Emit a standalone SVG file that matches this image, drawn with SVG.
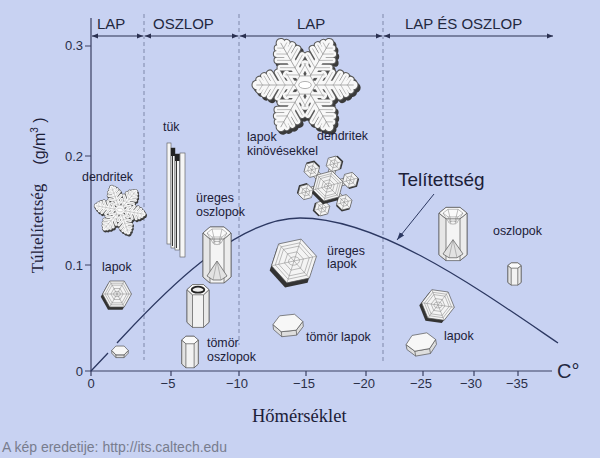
<svg xmlns="http://www.w3.org/2000/svg" width="600" height="458" viewBox="0 0 600 458">
<style>
.lbl{font-family:"Liberation Sans",Arial,sans-serif;font-size:12.4px;fill:#1c2038}
.hdr{font-family:"Liberation Sans",Arial,sans-serif;font-size:15px;fill:#232840}
.tick{font-family:"Liberation Sans",Arial,sans-serif;font-size:13px;fill:#2a2f48}
.axis{stroke:#3a4062;stroke-width:1.2;fill:none}
.dash{stroke:#7f88aa;stroke-width:1;stroke-dasharray:4 3;fill:none}
.ln{stroke:#555;stroke-width:0.7;vector-effect:non-scaling-stroke}
.ln2{stroke:#808080;stroke-width:0.5;vector-effect:non-scaling-stroke;fill:none}
</style>
<defs>
<marker id="ah" viewBox="0 0 6 6" refX="6" refY="3" markerWidth="6" markerHeight="6" orient="auto-start-reverse" markerUnits="userSpaceOnUse"><path d="M0,0.5 L6,3 L0,5.5Z" fill="#2a3050"/></marker>
<marker id="ah2" viewBox="0 0 8 6" refX="8" refY="3" markerWidth="8" markerHeight="6" orient="auto" markerUnits="userSpaceOnUse"><path d="M0,0.3 L8,3 L0,5.7Z" fill="#2c3862"/></marker>
<path id="stem" d="M0,0 H46" fill="none" stroke-linecap="round"/>
<path id="br" d="M11,0 l6.5,-11 M11,0 l6.5,11 M19,0 l7,-12 M19,0 l7,12 M27,0 l6.5,-11 M27,0 l6.5,11 M34,0 l5,-8.5 M34,0 l5,8.5 M40.5,0 l3,-5 M40.5,0 l3,5" fill="none" stroke-linecap="round"/>
<g id="skel"><use href="#stem"/><use href="#stem" transform="rotate(60)"/><use href="#stem" transform="rotate(120)"/><use href="#stem" transform="rotate(180)"/><use href="#stem" transform="rotate(240)"/><use href="#stem" transform="rotate(300)"/></g>
<g id="brs"><use href="#br"/><use href="#br" transform="rotate(60)"/><use href="#br" transform="rotate(120)"/><use href="#br" transform="rotate(180)"/><use href="#br" transform="rotate(240)"/><use href="#br" transform="rotate(300)"/></g>
<g id="flake">
<g stroke="#3a3a3a" transform="translate(2,2.5)"><use href="#skel" stroke-width="10"/><use href="#brs" stroke-width="7.5"/></g>
<g stroke="#5a5a5a"><use href="#skel" stroke-width="10"/><use href="#brs" stroke-width="7.5"/></g>
<g stroke="#f8f8f8"><use href="#skel" stroke-width="8"/><use href="#brs" stroke-width="5.5"/></g>
<g stroke="#a0a0a0"><use href="#skel" stroke-width="0.8"/><use href="#brs" stroke-width="0.6"/></g>
<polygon points="10,0 5,8.66 -5,8.66 -10,0 -5,-8.66 5,-8.66" fill="#f8f8f8" stroke="#888" stroke-width="0.6"/>
<ellipse rx="6" ry="3.4" fill="#fff" stroke="#888" stroke-width="0.6"/>
</g>
<g id="sect">
<polygon points="10,0 5,8.66 -5,8.66 -10,0 -5,-8.66 5,-8.66" transform="translate(-1.2,1.8)" fill="#333"/>
<polygon points="10,0 5,8.66 -5,8.66 -10,0 -5,-8.66 5,-8.66" fill="#f4f4f4" class="ln"/>
<polygon points="8.3,0 4.15,7.19 -4.15,7.19 -8.3,0 -4.15,-7.19 4.15,-7.19" fill="#d6d6d6" class="ln2"/>
<polygon points="6.8,0 3.4,5.89 -3.4,5.89 -6.8,0 -3.4,-5.89 3.4,-5.89" fill="#f6f6f6" class="ln2"/>
<path d="M-10,0H10M-5,-8.66L5,8.66M5,-8.66L-5,8.66" class="ln2"/>
<polygon points="4.2,0 2.1,3.64 -2.1,3.64 -4.2,0 -2.1,-3.64 2.1,-3.64" fill="#e4e4e4" class="ln2"/>
<ellipse rx="2.4" ry="1.8" fill="#fff" class="ln2"/>
</g>
<g id="lobe">
<rect x="10" y="-3.4" width="7" height="6.8" fill="#f2f2f2" class="ln"/>
<polygon points="31,0 27,6.93 19,6.93 15,0 19,-6.93 27,-6.93" transform="translate(0.8,1.4)" fill="#333"/>
<polygon points="31,0 27,6.93 19,6.93 15,0 19,-6.93 27,-6.93" fill="#f4f4f4" class="ln"/>
<polygon points="27.2,0 25.1,3.64 20.9,3.64 18.8,0 20.9,-3.64 25.1,-3.64" class="ln2"/>
<path d="M15,0H31M19,-6.93L27,6.93M27,-6.93L19,6.93" class="ln2"/>
</g>
<g id="hcol">
<polygon points="-7,-28 7,-28 14,-22 14,22 7,28 -7,28 -14,22 -14,-22" fill="#f4f4f4" class="ln"/>
<polygon points="-14,-22 -7,-16 -7,28 -14,22" fill="#e6e6e6" class="ln"/>
<polygon points="7,-16 14,-22 14,22 7,28" fill="#ececec" class="ln"/>
<polygon points="-14,-22 -7,-28 7,-28 14,-22 7,-16 -7,-16" fill="#fafafa" class="ln"/>
<polygon points="-10,-22 -5,-26 5,-26 10,-22 5,-18 -5,-18" fill="#e8e8e8" class="ln2"/>
<path d="M-10,-22 L-4,-12 M10,-22 L4,-12 M-5,-18 L-2,-11 M5,-18 L2,-11 M-5,-26 L-2,-13 M5,-26 L2,-13" class="ln2"/>
<ellipse cy="-12" rx="4" ry="1.6" fill="#ddd" class="ln2"/>
<polygon points="0,6 -10,21 -4,25 4,25 10,21" fill="#e2e2e2" class="ln"/>
<path d="M0,6 L-4,25 M0,6 L4,25" class="ln2"/>
</g>
<g id="scol">
<polygon points="-5.5,-21 5.5,-21 11,-16 11,16 5.5,21 -5.5,21 -11,16 -11,-16" fill="#f2f2f2" class="ln"/>
<polygon points="-11,-16 -5.5,-11 -5.5,21 -11,16" fill="#e2e2e2" class="ln"/>
<polygon points="5.5,-11 11,-16 11,16 5.5,21" fill="#e9e9e9" class="ln"/>
<polygon points="-11,-16 -5.5,-21 5.5,-21 11,-16 5.5,-11 -5.5,-11" fill="#fafafa" class="ln"/>
</g>
<g id="splate">
<polygon points="-15,-1 -7.5,7 7.5,7 15,-1 15,4 7.5,12 -7.5,12 -15,4" fill="#dedede" class="ln"/>
<polygon points="-15,-1 -7.5,-9 7.5,-9 15,-1 7.5,7 -7.5,7" fill="#f7f7f7" class="ln"/>
<path d="M-7.5,7 V12 M7.5,7 V12" class="ln"/>
</g>
</defs>
<rect width="600" height="458" fill="#c8d2f2"/>

<g id="regions">
<path class="dash" d="M144,14 V360 M239,14 V345 M383,14 V362"/>
<g stroke="#2a3050" stroke-width="1" marker-start="url(#ah)" marker-end="url(#ah)">
<line x1="92" y1="36" x2="143" y2="36"/>
<line x1="145" y1="36" x2="238" y2="36"/>
<line x1="240" y1="36" x2="382" y2="36"/>
<line x1="384" y1="36" x2="553" y2="36"/>
</g>
<text class="hdr" x="97" y="29">LAP</text>
<text class="hdr" x="153" y="29">OSZLOP</text>
<text class="hdr" x="297" y="29">LAP</text>
<text class="hdr" x="405" y="29">LAP ÉS OSZLOP</text>
</g>

<g id="axes">
<path class="axis" d="M91,18 V371 H552"/>
<path class="axis" d="M85,46H91 M85,156H91 M85,265H91 M85,371H91 M91,371V376 M171,371V376 M239,371V376 M306,371V376 M366,371V376 M423,371V376 M474,371V376 M518,371V376"/>
<g class="tick" text-anchor="end">
<text x="83" y="50">0.3</text><text x="83" y="161">0.2</text><text x="83" y="270">0.1</text><text x="83" y="376">0</text>
</g>
<g class="tick" text-anchor="middle">
<text x="91" y="388">0</text><text x="168" y="388">−5</text><text x="237" y="388">−10</text><text x="304" y="388">−15</text><text x="364" y="388">−20</text><text x="421" y="388">−25</text><text x="471" y="388">−30</text><text x="517" y="388">−35</text>
</g>
<text x="557" y="378" font-family="'Liberation Sans',Arial,sans-serif" font-size="20" fill="#232840">C°</text>
<text x="252" y="422" font-family="'Liberation Serif','Times New Roman',serif" font-size="18.5" fill="#1c2038">Hőmérséklet</text>
<text transform="translate(43,228.5) rotate(-90)" text-anchor="middle" font-family="'Liberation Serif','Times New Roman',serif" font-size="17" fill="#1c2038">Túltelítettség</text>
<text transform="translate(45,141) rotate(-90)" text-anchor="middle" font-family="'Liberation Sans',Arial,sans-serif" font-size="16" fill="#1c2038">(g/m<tspan font-size="10" dy="-7">3</tspan><tspan dy="7"> )</tspan></text>
</g>

<g id="connectors">
<path d="M91,371 L108,353 M117,343 C150,308 230,218 300,218 C380,218 480,290 558,343" fill="none" stroke="#2c3862" stroke-width="1.3"/>
<line x1="434" y1="194" x2="397" y2="240" stroke="#2c3862" stroke-width="1" marker-end="url(#ah2)"/>
</g>
<text id="telitettseg" x="398" y="186" font-family="'Liberation Sans',Arial,sans-serif" font-size="19" fill="#1c2038">Telítettség</text>

<g id="big-dendrite"><use href="#flake" transform="translate(305,85) scale(1.05)"/></g>
<g id="small-dendrite"><use href="#flake" transform="translate(120,210) rotate(10) scale(0.52)"/><text class="lbl" x="82" y="181">dendritek</text></g>
<g id="needles">
<rect x="167" y="143" width="4" height="101" fill="#f6f6f6" stroke="#555" stroke-width="0.6"/>
<rect x="171" y="148" width="4" height="100" fill="#f6f6f6" stroke="#555" stroke-width="0.6"/>
<rect x="175" y="154" width="4.5" height="96" fill="#f6f6f6" stroke="#555" stroke-width="0.6"/>
<rect x="180" y="153" width="5" height="104" fill="#f6f6f6" stroke="#555" stroke-width="0.6"/>
<rect x="171" y="148" width="4" height="8" fill="#222"/>
<rect x="175" y="154" width="4.5" height="7" fill="#222"/>
<path d="M172.5,156 V246 M176.5,161 V248" stroke="#333" stroke-width="1"/>
<text class="lbl" x="163" y="131">tük</text>
</g>
<g id="hollow-column"><use href="#hcol" transform="translate(217,255)"/><text class="lbl" x="196" y="202">üreges</text><text class="lbl" x="196" y="216">oszlopok</text></g>
<g id="solid-columns">
<use href="#scol" transform="translate(198,306) scale(1,1.02)"/>
<ellipse cx="198" cy="289.7" rx="6.3" ry="3" fill="#eee" stroke="#222" stroke-width="1.8"/>
<use href="#scol" transform="translate(190,352) scale(0.75)"/>
<text class="lbl" x="207" y="347">tömör</text><text class="lbl" x="207" y="361">oszlopok</text>
</g>
<g id="left-plates">
<use href="#sect" transform="translate(117,294) scale(1.45,1.5)"/>
<use href="#splate" transform="translate(120,351) scale(0.55)"/>
<text class="lbl" x="102" y="271">lapok</text>
</g>
<g id="plate-outgrowths">
<g transform="translate(328,186)">
<use href="#lobe" transform="rotate(-75)"/><use href="#lobe" transform="rotate(-15)"/><use href="#lobe" transform="rotate(45)"/><use href="#lobe" transform="rotate(105)"/><use href="#lobe" transform="rotate(165)"/><use href="#lobe" transform="rotate(225)"/>
<use href="#sect" transform="rotate(-15) scale(1.55)"/>
</g>
<text class="lbl" x="247" y="141">lapok</text><text class="lbl" x="247" y="155">kinövésekkel</text>
<text class="lbl" x="317" y="140">dendritek</text>
</g>
<g id="hollow-plate"><use href="#sect" transform="translate(294,261) rotate(-12) scale(2.3)"/><text class="lbl" x="327" y="255">üreges</text><text class="lbl" x="327" y="268">lapok</text></g>
<g id="solid-plate"><use href="#splate" transform="translate(288,324) rotate(-6)"/><text class="lbl" x="306" y="341">tömör lapok</text></g>
<g id="right-columns">
<use href="#hcol" transform="translate(453,234) scale(1,0.95)"/>
<use href="#scol" transform="translate(514.5,274) scale(0.6,0.53)"/>
<text class="lbl" x="493" y="235">oszlopok</text>
</g>
<g id="right-plates">
<use href="#sect" transform="translate(438,305) rotate(8) scale(1.65)"/>
<use href="#splate" transform="translate(421,343) rotate(-10)"/>
<text class="lbl" x="444" y="340">lapok</text>
</g>
<text id="credit" x="2" y="452" font-family="'Liberation Sans',Arial,sans-serif" font-size="14" fill="#787d8e">A kép eredetije: http://its.caltech.edu</text>
</svg>
